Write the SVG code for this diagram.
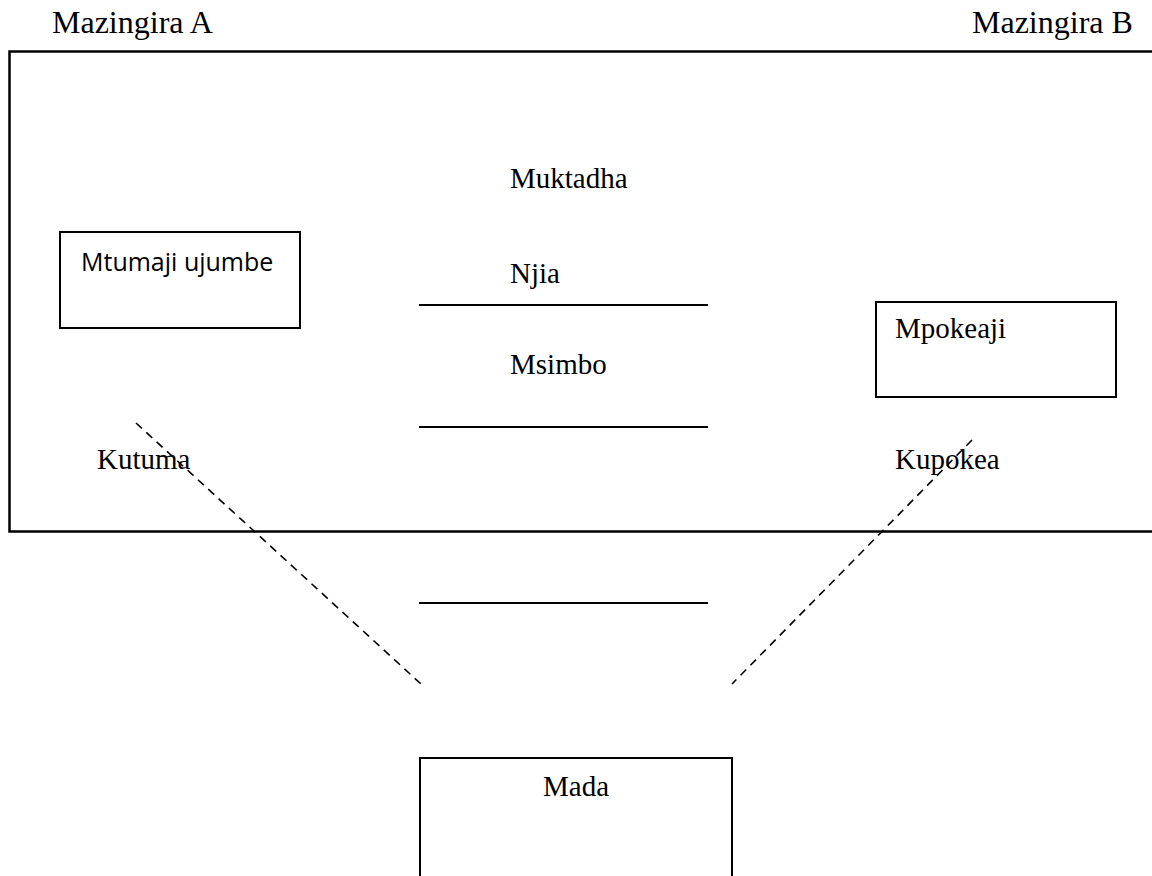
<svg xmlns="http://www.w3.org/2000/svg" width="1152" height="876" viewBox="0 0 1152 876">
<style>
.serif{font-family:"Liberation Serif","Times New Roman",serif;font-size:29px;fill:#000}
.head{font-family:"Liberation Serif","Times New Roman",serif;font-size:32px;fill:#000}
.sans{font-family:"Open Sans","Liberation Sans",sans-serif;font-size:25px;fill:#000}
.box{fill:#fff;stroke:#000;stroke-width:2}
.rule{stroke:#000;stroke-width:2;fill:none}
.dash{stroke:#000;stroke-width:1.6;stroke-dasharray:8 6;fill:none}
</style>
<rect width="1152" height="876" fill="#fff"/>
<g id="environment">
<rect x="9.5" y="51.5" width="1160" height="480" fill="none" stroke="#000" stroke-width="2.5"/>
<text class="head" x="52" y="33">Mazingira A</text>
<text class="head" x="972" y="33">Mazingira B</text>
</g>
<g id="connectors">
<line class="dash" x1="136" y1="423" x2="421" y2="684"/>
<line class="dash" x1="972" y1="440" x2="732" y2="684"/>
</g>
<g id="sender">
<rect class="box" x="60" y="232" width="240" height="96"/>
<text class="sans" x="81" y="271">Mtumaji ujumbe</text>
</g>
<g id="receiver">
<rect class="box" x="876" y="302" width="240" height="95"/>
<text class="serif" x="895" y="338">Mpokeaji</text>
</g>
<g id="middle">
<text class="serif" x="510" y="188">Muktadha</text>
<text class="serif" x="510" y="283">Njia</text>
<line class="rule" x1="419" y1="305" x2="708" y2="305"/>
<text class="serif" x="510" y="374">Msimbo</text>
<line class="rule" x1="419" y1="427" x2="708" y2="427"/>
<line class="rule" x1="419" y1="603" x2="708" y2="603"/>
</g>
<g id="labels">
<text class="serif" x="97" y="469">Kutuma</text>
<text class="serif" x="895" y="469">Kupokea</text>
</g>
<g id="topic">
<rect class="box" x="420" y="758" width="312" height="140"/>
<text class="serif" x="576" y="796" text-anchor="middle">Mada</text>
</g>
</svg>
